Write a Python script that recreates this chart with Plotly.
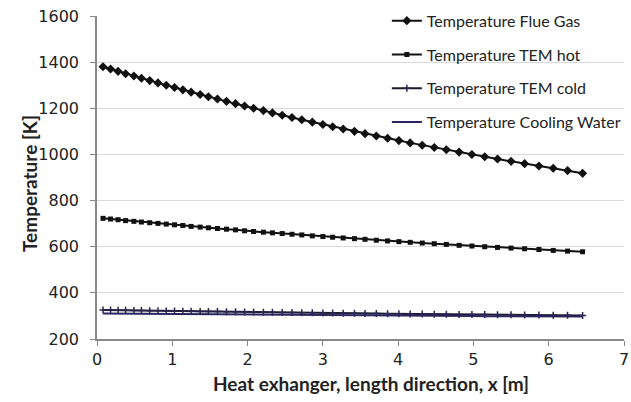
import plotly.graph_objects as go

x_m = [0.08, 0.18, 0.28, 0.38, 0.49, 0.59, 0.70, 0.81, 0.92, 1.03, 1.14, 1.25,
       1.37, 1.48, 1.60, 1.72, 1.84, 1.96, 2.08, 2.21, 2.33, 2.46, 2.59, 2.72,
       2.86, 3.00, 3.13, 3.27, 3.42, 3.56, 3.71, 3.86, 4.01, 4.16, 4.32, 4.48,
       4.64, 4.81, 4.98, 5.15, 5.32, 5.50, 5.68, 5.87, 6.06, 6.25, 6.45]

t_flue_gas = [1380, 1370, 1360, 1350, 1340, 1330, 1320, 1310, 1300, 1290, 1280, 1270,
              1260, 1250, 1240, 1230, 1220, 1210, 1200, 1190, 1180, 1170, 1160, 1150,
              1140, 1130, 1120, 1110, 1100, 1090, 1080, 1070, 1060, 1050, 1040, 1030,
              1020, 1010, 1000, 990, 980, 970, 960, 950, 940, 930, 918]

t_tem_hot = [723, 720, 717, 713, 710, 707, 704, 701, 698, 695, 692, 688,
             685, 682, 679, 676, 673, 669, 666, 663, 660, 657, 654, 651,
             647, 644, 641, 638, 635, 632, 628, 625, 622, 619, 616, 613,
             610, 606, 603, 600, 597, 594, 591, 588, 584, 581, 578]

t_tem_cold = [326, 325.5, 325, 324.4, 323.9, 323.4, 322.9, 322.3, 321.8, 321.3, 320.8, 320.3,
              319.7, 319.2, 318.7, 318.2, 317.7, 317.1, 316.6, 316.1, 315.6, 315.0, 314.5, 314.0,
              313.5, 313.0, 312.4, 311.9, 311.4, 310.9, 310.3, 309.8, 309.3, 308.8, 308.3, 307.7,
              307.2, 306.7, 306.2, 305.7, 305.1, 304.6, 304.1, 303.6, 303.0, 302.5, 302.0]

t_cooling_water = [311, 310.7, 310.4, 310.1, 309.8, 309.5, 309.2, 308.9, 308.6, 308.3, 308.0, 307.7,
                   307.3, 307.0, 306.7, 306.4, 306.1, 305.8, 305.5, 305.2, 304.9, 304.6, 304.3, 304.0,
                   303.7, 303.4, 303.1, 302.8, 302.5, 302.2, 301.9, 301.6, 301.3, 301.0, 300.7, 300.4,
                   300.0, 299.7, 299.4, 299.1, 298.8, 298.5, 298.2, 297.9, 297.6, 297.3, 297.0]

names = ["Temperature Flue Gas", "Temperature TEM hot", "Temperature TEM cold",
         "Temperature Cooling Water"]
x_title = "Heat exhanger, length direction, x [m]"
y_title = "Temperature [K]"

FONT = "Lato, 'Open Sans', sans-serif"
TICKFONT = "'DejaVu Sans', sans-serif"

fig = go.Figure()
fig.add_trace(go.Scatter(
    x=x_m, y=t_flue_gas, name=names[0], legendgroup="a", mode="lines+markers",
    line=dict(color="#111111", width=2),
    marker=dict(symbol="diamond", size=7, color="#111111")))
fig.add_trace(go.Scatter(
    x=x_m, y=t_tem_hot, name=names[1], legendgroup="b", mode="lines+markers",
    line=dict(color="#111111", width=2),
    marker=dict(symbol="square", size=5, color="#111111")))
fig.add_trace(go.Scatter(
    x=x_m, y=t_tem_cold, name=names[2], legendgroup="c", mode="lines+markers",
    line=dict(color="#1a1a2e", width=2),
    marker=dict(symbol="cross-thin", size=5, color="#2a2550",
                line=dict(width=1.5, color="#2a2550"))))
fig.add_trace(go.Scatter(
    x=x_m, y=t_cooling_water, name=names[3], legendgroup="d", mode="lines",
    line=dict(color="#2c2660", width=2)))

fig.update_layout(
    width=631, height=402,
    margin=dict(l=97, r=7, t=16, b=63, autoexpand=False),
    paper_bgcolor="white", plot_bgcolor="white",
    font=dict(family=FONT, color="#222222"),
    showlegend=True,
    legend=dict(x=0.55, y=1.038, xanchor="left", yanchor="top",
                bgcolor="rgba(0,0,0,0)", font=dict(size=16, color="#222222"),
                tracegroupgap=10, itemwidth=30),
    xaxis=dict(range=[0, 7], dtick=1, tick0=0, showgrid=False, zeroline=False,
               automargin=False, ticklabeloverflow="allow",
               showline=True, linecolor="#888888", linewidth=1.5,
               ticks="outside", ticklen=5, tickcolor="#888888",
               tickfont=dict(family=TICKFONT, size=16, color="#222222")),
    yaxis=dict(range=[200, 1600], dtick=200, tick0=200, showgrid=True,
               automargin=False, ticklabeloverflow="allow", ticklabelstandoff=8,
               gridcolor="#d9d9d9", gridwidth=1, zeroline=False,
               showline=True, linecolor="#888888", linewidth=1.5,
               ticks="outside", ticklen=5, tickcolor="#888888",
               tickfont=dict(family=TICKFONT, size=16, color="#222222")),
    annotations=[
        dict(text="<b>" + x_title + "</b>", xref="paper", yref="paper",
             x=0.52, y=-0.138, xanchor="center", yanchor="middle", showarrow=False,
             font=dict(size=19, color="#222222")),
        dict(text="<b>" + y_title + "</b>", xref="paper", yref="paper",
             x=-0.127, y=0.48, xanchor="center", yanchor="middle", showarrow=False,
             textangle=-90, font=dict(size=19, color="#222222")),
    ],
)

fig.write_html("out.html",
               config={"displayModeBar": False},
               post_script="document.body.style.margin='0px';")
